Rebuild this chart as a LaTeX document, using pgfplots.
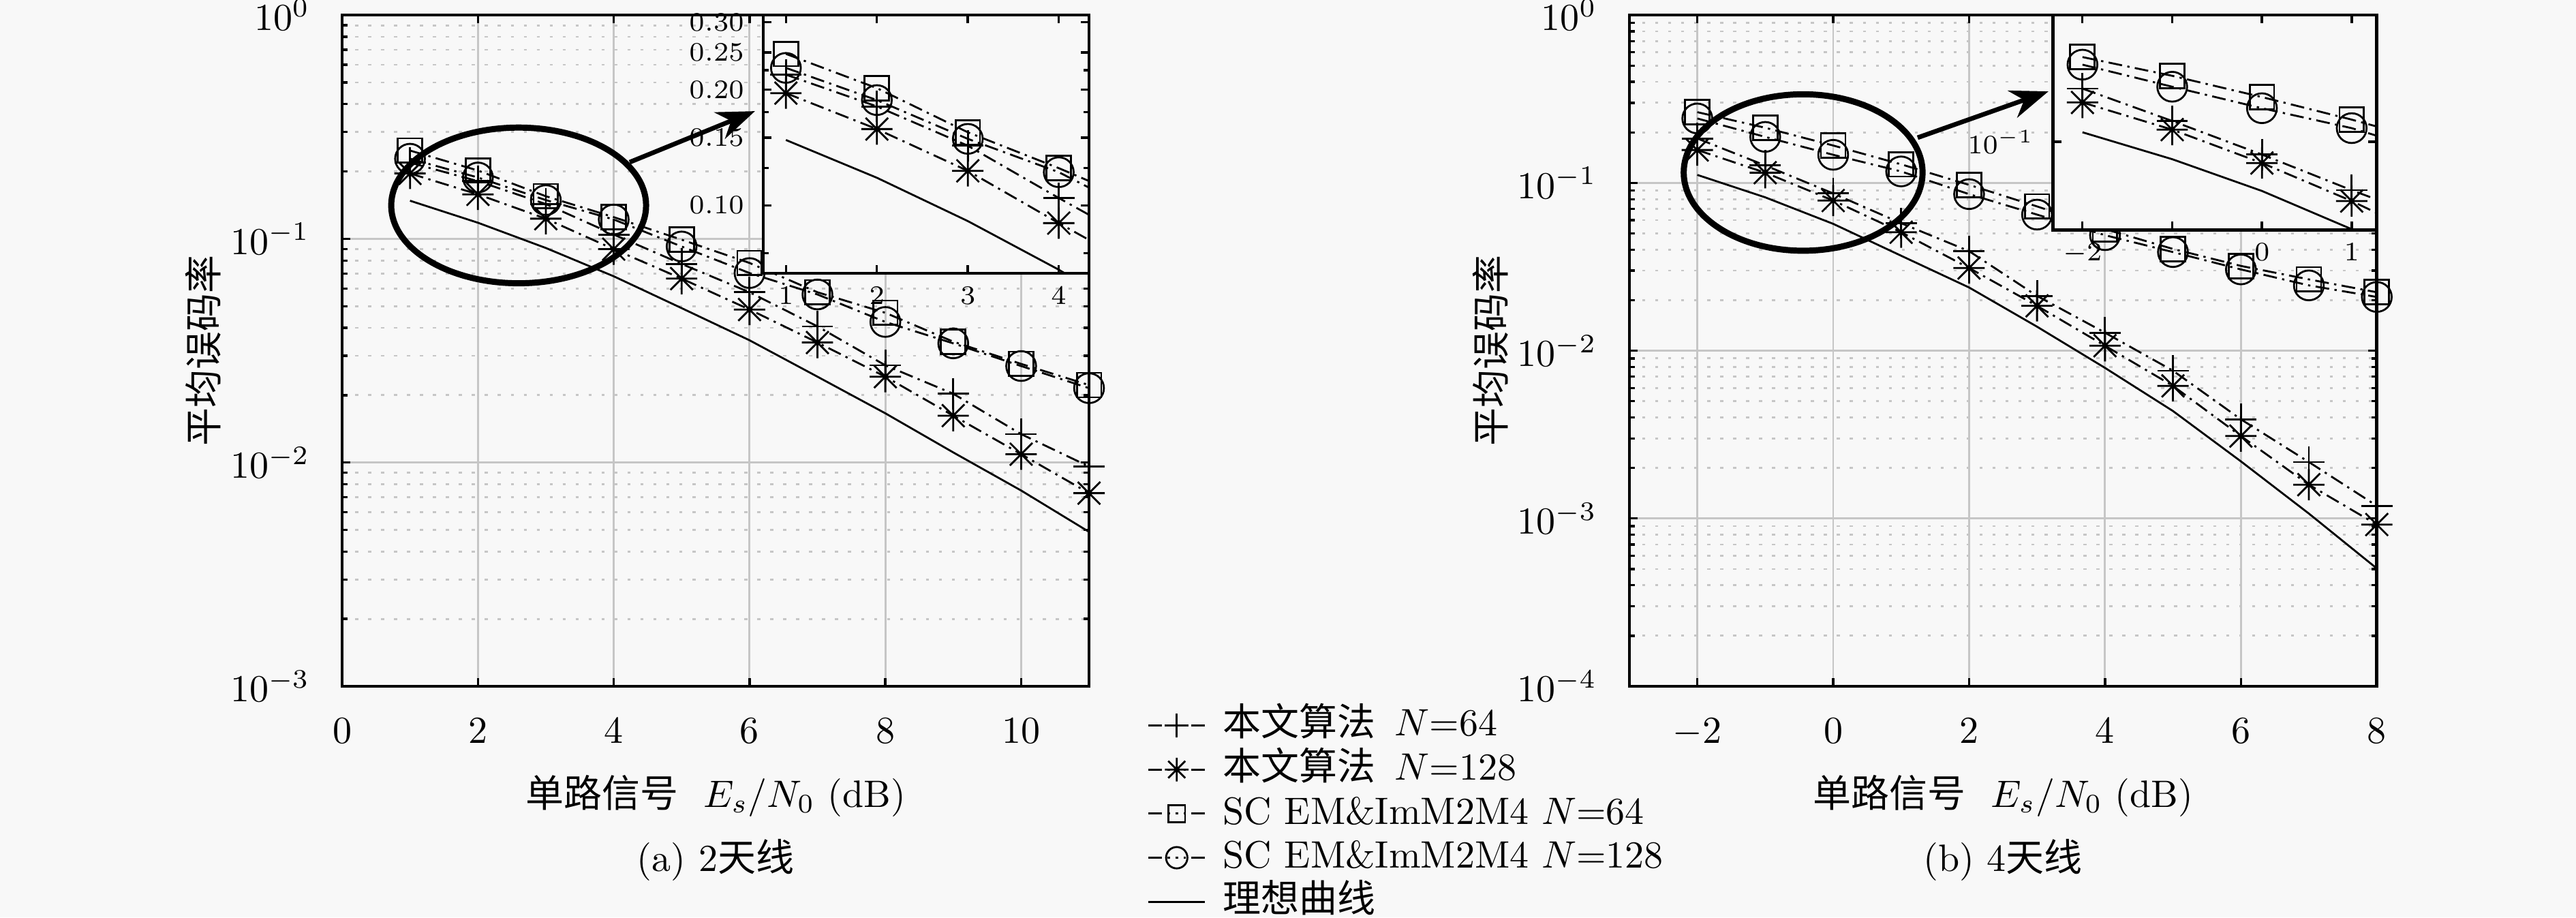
\documentclass[border=0pt]{standalone}
\usepackage{fontspec}
\newfontfamily\cjk{Noto Sans CJK SC}
\usepackage{pgfplots}
\usepackage{pgfplotstable}
\pgfplotsset{compat=1.18}
\usetikzlibrary{arrows.meta}
\definecolor{bgcol}{RGB}{248,248,248}

\pgfdeclareplotmark{mstar}{%
  \pgfpathmoveto{\pgfqpoint{-\pgfplotmarksize}{0pt}}\pgfpathlineto{\pgfqpoint{\pgfplotmarksize}{0pt}}%
  \pgfpathmoveto{\pgfqpoint{0pt}{-\pgfplotmarksize}}\pgfpathlineto{\pgfqpoint{0pt}{\pgfplotmarksize}}%
  \pgfpathmoveto{\pgfqpoint{-0.72\pgfplotmarksize}{-0.72\pgfplotmarksize}}\pgfpathlineto{\pgfqpoint{0.72\pgfplotmarksize}{0.72\pgfplotmarksize}}%
  \pgfpathmoveto{\pgfqpoint{-0.72\pgfplotmarksize}{0.72\pgfplotmarksize}}\pgfpathlineto{\pgfqpoint{0.72\pgfplotmarksize}{-0.72\pgfplotmarksize}}%
  \pgfusepathqstroke}

\pgfplotstableread{
x plus star square circle ideal
1 0.219 0.196 0.248 0.228 0.148
2 0.181 0.158 0.202 0.188 0.118
3 0.143 0.123 0.155 0.149 0.091
4 0.1045 0.0899 0.125 0.122 0.068
5 0.0772 0.0664 0.0991 0.0924 0.049
6 0.0577 0.0483 0.078 0.0703 0.0352
7 0.0406 0.0344 0.0577 0.0564 0.0242
8 0.0272 0.0242 0.0467 0.0425 0.0166
9 0.0203 0.0162 0.0347 0.0341 0.0111
10 0.0134 0.0109 0.0276 0.0270 0.0075
11 0.0096 0.0073 0.0222 0.0215 0.0049
}\dataA

\pgfplotstableread{
x plus star square circle ideal
-2 0.184 0.157 0.264 0.242 0.1116
-1 0.127 0.115 0.213 0.188 0.082
0 0.0865 0.0785 0.167 0.147 0.057
1 0.0575 0.0508 0.129 0.117 0.0368
2 0.0392 0.0311 0.0973 0.0857 0.0238
3 0.0212 0.0185 0.0724 0.0647 0.0139
4 0.0128 0.0107 0.053 0.0488 0.0079
5 0.0076 0.00617 0.0404 0.0387 0.00437
6 0.0039 0.0031 0.032 0.0305 0.00219
7 0.00217 0.00159 0.0266 0.0245 0.00107
8 0.00119 0.00092 0.0223 0.0209 0.000504
}\dataB

\tikzset{
  dd/.style={black, line width=0.5pt, dash pattern=on 3.6pt off 1.4pt on 0.6pt off 1.4pt},
  pA/.style={dd, mark=+, mark size=4.1pt, mark options={solid, line width=0.5pt}},
  pB/.style={dd, mark=mstar, mark size=4.1pt, mark options={solid, line width=0.5pt}},
  pC/.style={dd, mark=square, mark size=3.2pt, mark options={solid, line width=0.5pt}},
  pD/.style={dd, mark=o, mark size=3.9pt, mark options={solid, line width=0.5pt}},
  pE/.style={black, solid, line width=0.5pt},
}

\begin{document}
\begin{tikzpicture}
\path[use as bounding box, fill=bgcol] (0,0) rectangle (675.1pt,240.4pt);

% ---------------- (a) 2 antennas ----------------
\begin{axis}[name=mainA, at={(89.66pt,60.55pt)}, anchor=south west,
  scale only axis, width=195.75pt, height=175.9pt,
  ymode=log, clip=false,
  grid=both,
  major grid style={gray!45, line width=0.5pt},
  minor grid style={gray!45, line width=0.5pt, dash pattern=on 0.8pt off 2.6pt},
  axis line style={line width=0.8pt},
  tick style={black, line width=0.6pt},
  major tick length=2.2pt, minor tick length=1.4pt,
  tick align=inside,
  xticklabel style={yshift=-5pt},
  yticklabel style={xshift=-5pt},
  xlabel style={at={(axis description cs:0.5,-0.1635)}, anchor=center},
  ylabel style={at={(axis description cs:-0.186,0.5)}, anchor=center},
  xmin=0, xmax=11, ymin=1e-3, ymax=1,
  xtick={0,2,4,6,8,10}, ytick={1e-3,1e-2,1e-1,1},
  xlabel={{\cjk 单路信号}\ \ $E_s/N_0$ (dB)},
  ylabel={\cjk 平均误码率},
  legend style={at={(axis description cs:1.062,-0.0132)}, anchor=north west,
    draw=none, fill=none, font=\normalsize,
    nodes={inner sep=0.5pt, text height=8pt, text depth=2.5pt},
    row sep=0.05pt,
    /tikz/every odd column/.append style={column sep=4pt}},
  legend cell align=left,
  legend image code/.code={%
    \draw[mark=none] (0cm,0cm) -- (0.26cm,0cm);
    \draw[mark=none] (0.52cm,0cm) -- (0.26cm,0cm);
    \draw plot coordinates {(0.26cm,0cm)};},
]
\addplot[pA, forget plot] table[x=x,y=plus] {\dataA};
\addplot[pB, forget plot] table[x=x,y=star] {\dataA};
\addplot[pC, forget plot] table[x=x,y=square] {\dataA};
\addplot[pD, forget plot] table[x=x,y=circle] {\dataA};
\addplot[pE, no marks, forget plot] table[x=x,y=ideal] {\dataA};
\addlegendimage{pA, mark size=3.1pt}
\addlegendentry{{\cjk 本文算法}\, $N$=64}
\addlegendimage{pB, mark size=3.1pt}
\addlegendentry{{\cjk 本文算法}\, $N$=128}
\addlegendimage{pC, mark size=2.2pt}
\addlegendentry{SC EM\&ImM2M4 $N$=64}
\addlegendimage{pD, mark size=2.8pt}
\addlegendentry{SC EM\&ImM2M4 $N$=128}
\addlegendimage{pE, no marks}
\addlegendentry{\cjk 理想曲线}
\draw[line width=1.6pt] (axis cs:2.6,0.141) ellipse [x radius=33.4pt, y radius=20.4pt];
\draw[line width=1.2pt, -{Stealth[length=10pt,width=7.5pt]}] (axis cs:4.235,0.22) -- (axis cs:6.08,0.372);
\node[anchor=center] at (axis description cs:0.5,-0.2589) {(a) 2{\cjk 天线}};
\end{axis}

\begin{axis}[at={(mainA.north east)}, anchor=north east,
  scale only axis, width=85.4pt, height=67.7pt,
  ymode=log,
  axis background/.style={fill=bgcol},
  axis line style={line width=0.8pt},
  tick style={black, line width=0.6pt},
  major tick length=2.2pt, minor tick length=1.4pt,
  tick align=inside,
  tick label style={font=\fontsize{7.5}{9}\selectfont},
  yticklabel style={xshift=-1.5pt},
  xmin=0.75, xmax=4.333, ymin=0.0665, ymax=0.313,
  xtick={1,2,3,4},
  ytick={0.1,0.15,0.2,0.25,0.3},
  yticklabels={$0.10$,$0.15$,$0.20$,$0.25$,$0.30$},
  minor ytick={0.075,0.125,0.175,0.225},
]
\addplot[pA] table[x=x,y=plus] {\dataA};
\addplot[pB] table[x=x,y=star] {\dataA};
\addplot[pC] table[x=x,y=square] {\dataA};
\addplot[pD] table[x=x,y=circle] {\dataA};
\addplot[pE, no marks] table[x=x,y=ideal] {\dataA};
\end{axis}

% ---------------- (b) 4 antennas ----------------
\begin{axis}[name=mainB, at={(427.0pt,60.55pt)}, anchor=south west,
  scale only axis, width=195.9pt, height=175.9pt,
  ymode=log, clip=false,
  grid=both,
  major grid style={gray!45, line width=0.5pt},
  minor grid style={gray!45, line width=0.5pt, dash pattern=on 0.8pt off 2.6pt},
  axis line style={line width=0.8pt},
  tick style={black, line width=0.6pt},
  major tick length=2.2pt, minor tick length=1.4pt,
  tick align=inside,
  xticklabel style={yshift=-5pt},
  yticklabel style={xshift=-5pt},
  xlabel style={at={(axis description cs:0.5,-0.1635)}, anchor=center},
  ylabel style={at={(axis description cs:-0.186,0.5)}, anchor=center},
  xmin=-3, xmax=8, ymin=1e-4, ymax=1,
  xtick={-2,0,2,4,6,8}, ytick={1e-4,1e-3,1e-2,1e-1,1},
  xlabel={{\cjk 单路信号}\ \ $E_s/N_0$ (dB)},
  ylabel={\cjk 平均误码率},
]
\addplot[pA] table[x=x,y=plus] {\dataB};
\addplot[pB] table[x=x,y=star] {\dataB};
\addplot[pC] table[x=x,y=square] {\dataB};
\addplot[pD] table[x=x,y=circle] {\dataB};
\addplot[pE, no marks] table[x=x,y=ideal] {\dataB};
\draw[line width=1.6pt] (axis cs:-0.442,0.1153) ellipse [x radius=31.3pt, y radius=20.5pt];
\draw[line width=1.2pt, -{Stealth[length=10pt,width=7.5pt]}] (axis cs:1.243,0.186) -- (axis cs:3.168,0.351);
\node[anchor=center] at (axis description cs:0.5,-0.2589) {(b) 4{\cjk 天线}};
\end{axis}

\begin{axis}[at={(mainB.north east)}, anchor=north east,
  scale only axis, width=84.9pt, height=56.3pt,
  ymode=log,
  axis background/.style={fill=bgcol},
  axis line style={line width=0.8pt},
  tick style={black, line width=0.6pt},
  major tick length=2.2pt, minor tick length=1.4pt,
  tick align=inside,
  tick label style={font=\fontsize{7.5}{9}\selectfont},
  yticklabel style={xshift=-1.5pt},
  xmin=-2.33, xmax=1.28, ymin=0.0365, ymax=0.427,
  xtick={-2,-1,0,1}, xticklabels={$-2$,,$0$,$1$},
  ytick={0.1}, yticklabels={$10^{-1}$},
]
\addplot[pA] table[x=x,y=plus] {\dataB};
\addplot[pB] table[x=x,y=star] {\dataB};
\addplot[pC] table[x=x,y=square] {\dataB};
\addplot[pD] table[x=x,y=circle] {\dataB};
\addplot[pE, no marks] table[x=x,y=ideal] {\dataB};
\end{axis}
\end{tikzpicture}
\end{document}
